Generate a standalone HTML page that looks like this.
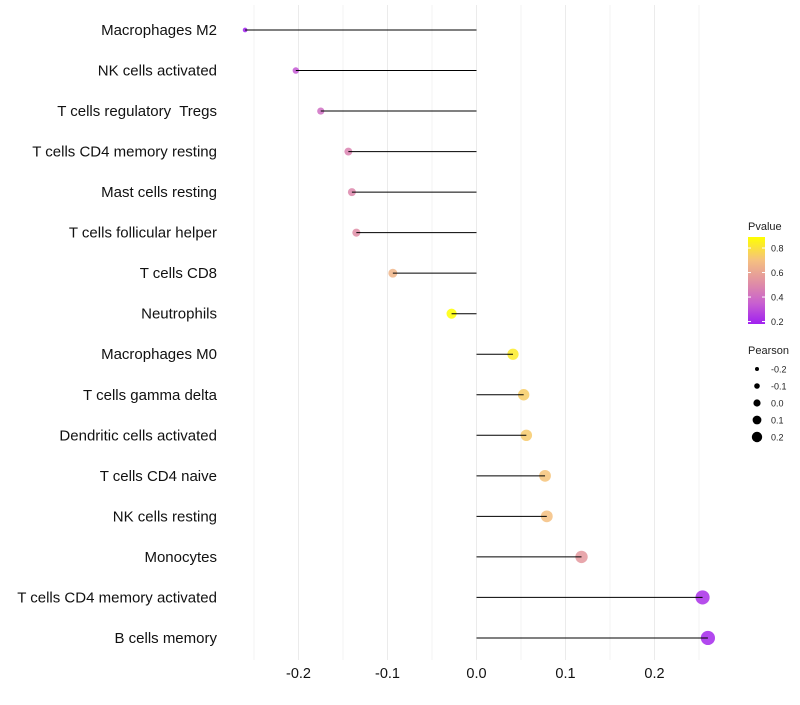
<!DOCTYPE html>
<html><head><meta charset="utf-8"><style>
body{margin:0;background:#fff;font-family:"Liberation Sans",Arial,sans-serif}
svg text{font-family:"Liberation Sans",Arial,sans-serif;white-space:pre}
</style></head><body>
<svg id="c" width="800" height="700"></svg>
<script>
const categories=["Macrophages M2","NK cells activated","T cells regulatory  Tregs","T cells CD4 memory resting","Mast cells resting","T cells follicular helper","T cells CD8","Neutrophils","Macrophages M0","T cells gamma delta","Dendritic cells activated","T cells CD4 naive","NK cells resting","Monocytes","T cells CD4 memory activated","B cells memory"];
const pearson=[-0.260,-0.203,-0.175,-0.144,-0.140,-0.135,-0.094,-0.028,0.041,0.053,0.056,0.077,0.079,0.118,0.254,0.260];
const pvalue=[0.18,0.33,0.40,0.47,0.49,0.51,0.66,0.89,0.83,0.74,0.73,0.71,0.70,0.55,0.22,0.20];
const xTicks=[-0.2,-0.1,0,0.1,0.2];
const xTickLabels=["-0.2","-0.1","0.0","0.1","0.2"];
const colorTicks=[0.2,0.4,0.6,0.8];
const sizeTicks=[-0.2,-0.1,0,0.1,0.2];

const NS="http://www.w3.org/2000/svg";
const svg=document.getElementById('c');
function mk(t,a,p){const e=document.createElementNS(NS,t);for(const k in a)e.setAttribute(k,a[k]);(p||svg).appendChild(e);return e;}
const x=v=>476.5+v*890;
const y=i=>30+i*40.53;
const r=v=>Math.sqrt(Math.max(3,28+86.5*v));
function lerp(a,b,t){return a.map((c,i)=>Math.round(c+(b[i]-c)*t));}
const stops=[[0.18,[160,32,240]],[0.35,[200,96,208]],[0.5,[222,138,168]],[0.7,[245,192,128]],[0.89,[255,255,0]]];
function col(p){p=Math.max(0.18,Math.min(0.89,p));let s=0;while(s<stops.length-2&&p>stops[s+1][0])s++;const [a,ca]=stops[s],[b,cb]=stops[s+1];const c=lerp(ca,cb,(p-a)/(b-a));return `rgb(${c})`;}
const cmin=0.18,cmax=0.89;

for(let v=-0.25;v<=0.27;v+=0.05){
 const g=mk('line',{x1:x(v),x2:x(v),y1:5,y2:660,stroke:'#ebebeb','stroke-width':Math.abs(Math.round(v*100))%10===0?1:0.6});
 
 
}
xTicks.forEach((v,i)=>{
 const t=mk('text',{x:x(v),y:678,'font-size':14.5,'text-anchor':'middle',fill:'#111'});
 t.textContent=xTickLabels[i];
 
 
});
categories.forEach((c,i)=>{
 const t=mk('text',{x:217,y:y(i)+5,'font-size':15,'text-anchor':'end',fill:'#111'});
 t.textContent=c;
 
 
 const d=mk('circle',{cx:x(pearson[i]),cy:y(i),r:r(pearson[i]),fill:col(pvalue[i]),'fill-opacity':0.85});
 
 
 const l=mk('line',{x1:x(0),x2:x(pearson[i]),y1:y(i),y2:y(i),stroke:'#000','stroke-width':1});
 
 
});
const defs=mk('defs',{});
const lg=mk('linearGradient',{id:'gr',x1:0,y1:1,x2:0,y2:0},defs);
stops.forEach(s=>mk('stop',{offset:((s[0]-cmin)/(cmax-cmin)*100)+'%','stop-color':`rgb(${s[1]})`},lg));
const lt=mk('text',{x:748,y:230,'font-size':11,fill:'#222'});lt.textContent='Pvalue';

const bar=mk('rect',{x:748,y:237,width:17,height:87,fill:'url(#gr)'});

const cy=p=>324-(p-cmin)/(cmax-cmin)*87;
colorTicks.forEach(p=>{
 mk('line',{x1:748,x2:751,y1:cy(p),y2:cy(p),stroke:'#fff'});
 mk('line',{x1:762,x2:765,y1:cy(p),y2:cy(p),stroke:'#fff'});
 const t=mk('text',{x:771,y:cy(p)+3.5,'font-size':9,fill:'#222'});t.textContent=p.toFixed(1);
 
});
const st=mk('text',{x:748,y:354,'font-size':11,fill:'#222'});st.textContent='Pearson';

sizeTicks.forEach((v,i)=>{
 const yy=369+i*17;
 const d=mk('circle',{cx:757,cy:yy,r:3.6+v*8,fill:'#000'});
 
 const t=mk('text',{x:771,y:yy+3.5,'font-size':9,fill:'#222'});t.textContent=v.toFixed(1);
 
});
</script>
</body></html>
